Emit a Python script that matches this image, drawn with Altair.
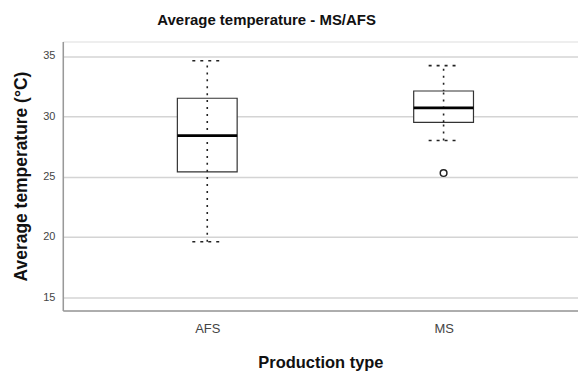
import altair as alt
import pandas as pd

categories = ["AFS", "MS"]
whisker_low = [19.6, 28.0]
q1 = [25.4, 29.5]
median = [28.4, 30.7]
q3 = [31.5, 32.1]
whisker_high = [34.6, 34.2]
outlier_cat = ["MS"]
outlier_val = [25.3]

df = pd.DataFrame({
    "type": categories,
    "lo": whisker_low,
    "q1": q1,
    "med": median,
    "q3": q3,
    "hi": whisker_high,
})
out_df = pd.DataFrame({"type": outlier_cat, "val": outlier_val})

xs = alt.X("type:N", title="Production type", sort=categories,
           scale=alt.Scale(type="point", padding=0.59, align=0.518),
           axis=alt.Axis(labelAngle=0, labelFontSize=13, labelColor="#444",
                         labelPadding=12, ticks=False, grid=False,
                         domainColor="#999", domainWidth=1.5,
                         titleFontSize=16.5, titleFontWeight="bold",
                         titleColor="#111", titlePadding=19,
                         labelFont="Liberation Sans", titleFont="Liberation Sans"))
yscale = alt.Scale(domain=[13.9, 36.2], nice=False, zero=False)
yax = alt.Axis(values=[15, 20, 25, 30, 35], ticks=False, labelFontSize=11,
               labelColor="#444", labelPadding=8, gridColor="#d4d4d4",
               gridWidth=1.5, domainColor="#999", domainWidth=1.5,
               titleFontSize=17.5, titleFontWeight="bold", titleColor="#111",
               titlePadding=12, labelFont="Liberation Sans",
               titleFont="Liberation Sans")

base = alt.Chart(df)

whisk = base.mark_rule(color="#222", strokeWidth=1.6, strokeDash=[2, 5]).encode(
    x=xs,
    y=alt.Y("lo:Q", title="Average temperature (°C)", scale=yscale, axis=yax),
    y2="hi:Q",
)
box = base.mark_bar(size=60, fill="white", stroke="#333", strokeWidth=1.2).encode(
    x=xs, y=alt.Y("q1:Q", scale=yscale), y2="q3:Q"
)
whisk_in = base.mark_rule(color="#222", strokeWidth=1.6, strokeDash=[2, 5]).encode(
    x=xs, y=alt.Y("q1:Q", scale=yscale), y2="q3:Q"
)
med = base.mark_tick(size=60, thickness=3, color="#000", opacity=1).encode(
    x=xs, y=alt.Y("med:Q", scale=yscale)
)
cap_hi = base.mark_rule(color="#222", strokeWidth=1.6, strokeDash=[3, 5],
                        xOffset=-15, x2Offset=15).encode(
    x=xs, x2="type:N", y=alt.Y("hi:Q", scale=yscale)
)
cap_lo = base.mark_rule(color="#222", strokeWidth=1.6, strokeDash=[3, 5],
                        xOffset=-15, x2Offset=15).encode(
    x=xs, x2="type:N", y=alt.Y("lo:Q", scale=yscale)
)
outl = alt.Chart(out_df).mark_point(shape="circle", size=45, filled=False,
                                    color="#222", strokeWidth=1.5,
                                    opacity=1).encode(
    x=xs, y=alt.Y("val:Q", scale=yscale)
)

chart = alt.layer(whisk, box, whisk_in, med, cap_hi, cap_lo, outl).properties(
    width=517, height=270,
    title=alt.TitleParams("Average temperature - MS/AFS", fontSize=15,
                          fontWeight="bold", color="#111",
                          font="Liberation Sans", offset=14, dx=-54),
    padding={"left": 4, "top": 4, "right": 0, "bottom": 0},
).configure_view(stroke=None).configure(background="white")

chart.save("out.html", embed_options={"renderer": "svg", "actions": False})
